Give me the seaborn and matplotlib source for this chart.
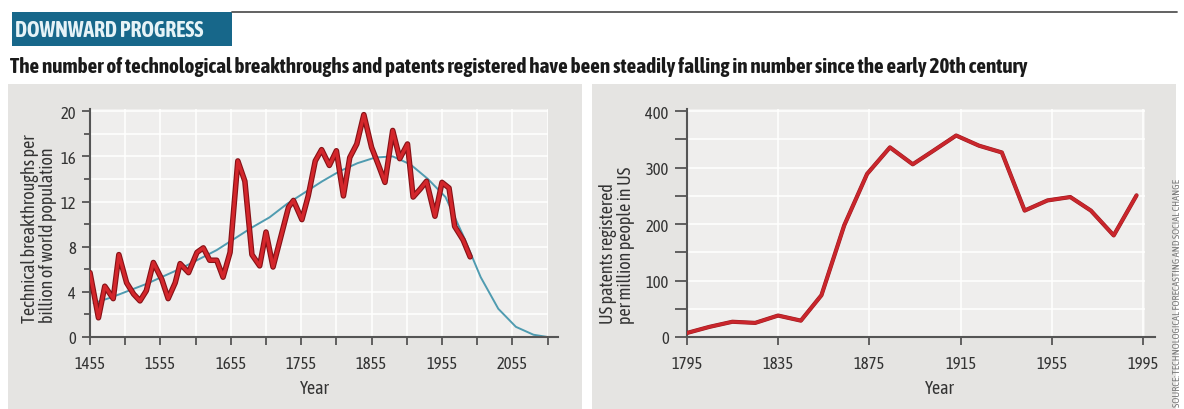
import numpy as np
import pandas as pd
import matplotlib
matplotlib.use("Agg")
import matplotlib.pyplot as plt
import matplotlib.patheffects as pe
from matplotlib import font_manager as fm
from matplotlib.patches import Rectangle
from matplotlib.lines import Line2D
import seaborn as sns

# ------------------------------------------------------------
# Data
# ------------------------------------------------------------
bt_years = [1455, 1467, 1476, 1488, 1496, 1507, 1517, 1526, 1535, 1545,
            1557, 1566, 1576, 1583, 1595, 1607, 1616, 1625, 1635, 1644,
            1654, 1665, 1675, 1685, 1696, 1705, 1715, 1737, 1744, 1756,
            1765, 1775, 1784, 1795, 1805, 1815, 1824, 1834, 1844, 1855,
            1865, 1874, 1885, 1895, 1906, 1914, 1924, 1933, 1945, 1955,
            1965, 1973, 1985, 1995]
bt_values = [5.7, 1.7, 4.5, 3.4, 7.3, 4.8, 3.8, 3.2, 4.1, 6.6,
             5.1, 3.4, 4.8, 6.5, 5.7, 7.5, 7.9, 6.8, 6.8, 5.3,
             7.5, 15.6, 13.8, 7.3, 6.3, 9.3, 6.2, 11.5, 12.1, 10.4,
             12.5, 15.6, 16.6, 15.2, 16.5, 12.5, 15.9, 17.1, 19.7, 16.8,
             15.2, 13.7, 18.3, 15.8, 17.1, 12.4, 13.1, 13.8, 10.7, 13.7,
             13.2, 9.8, 8.6, 7.1]

fit_years = [1460, 1485, 1510, 1535, 1560, 1585, 1610, 1635, 1660, 1685,
             1710, 1735, 1760, 1785, 1810, 1835, 1860, 1885, 1910, 1935,
             1960, 1985, 2010, 2035, 2060, 2085, 2105]
fit_values = [3.0, 3.5, 4.1, 4.7, 5.4, 6.1, 6.9, 7.7, 8.7, 9.7,
              10.6, 11.8, 12.8, 13.8, 14.7, 15.4, 15.9, 16.0, 15.3, 14.0,
              12.4, 9.0, 5.3, 2.5, 0.9, 0.2, 0.0]

pat_years = [1795, 1805, 1815, 1825, 1835, 1845, 1854, 1864, 1874, 1884,
             1894, 1903, 1913, 1923, 1933, 1943, 1953, 1963, 1972, 1982, 1992]
pat_values = [7, 18, 27, 25, 38, 29, 74, 198, 289, 336,
              306, 330, 357, 339, 327, 224, 242, 248, 224, 180, 251]

title = "DOWNWARD PROGRESS"
subtitle = ("The number of technological breakthroughs and patents registered "
            "have been steadily falling in number since the early 20th century")
left_ylabel = "Technical breakthroughs per\nbillion of world population"
right_ylabel = "US patents registered\nper million people in US"
source = "SOURCE: TECHNOLOGICAL FORECASTING AND SOCIAL CHANGE"

# ------------------------------------------------------------
# Style: a condensed face if one is around, else shrink DejaVu
# ------------------------------------------------------------
sns.set_style("ticks")
installed = {f.name for f in fm.fontManager.ttflist}
face, k = "DejaVu Sans", 0.78
for cand in ["Asap Condensed", "Archivo Narrow", "Barlow Condensed",
             "Liberation Sans Narrow"]:
    if cand in installed:
        face, k = cand, 1.0
        break
plt.rcParams['font.family'] = [face, 'DejaVu Sans']

W, H = 1184, 410
PANEL = "#e5e4e2"
PLOT_BG = "#efeeed"
AXIS = "#555555"
TXT = "#333333"
RED = "#d3262b"
BLUE = "#4f9bb0"

fig = plt.figure(figsize=(W / 100, H / 100), dpi=100)
fig.patch.set_facecolor("white")


def px(x0, y0, x1, y1):
    # pixel box (top-left origin) -> figure fraction [l, b, w, h]
    return [x0 / W, 1 - y1 / H, (x1 - x0) / W, (y1 - y0) / H]


def add_rect(x0, y0, x1, y1, color):
    l, b, w, h = px(x0, y0, x1, y1)
    fig.add_artist(Rectangle((l, b), w, h, transform=fig.transFigure,
                             facecolor=color, edgecolor="none", zorder=0))


# header
add_rect(12, 13, 232, 47, "#17678a")
fig.add_artist(Line2D([232 / W, 1177 / W], [1 - 13 / H, 1 - 13 / H],
                      transform=fig.transFigure, color="#555555", lw=1.3))
fig.text(15 / W, 1 - 31 / H, title, color="#e6f3f7", fontsize=15.5 * k,
         fontweight="bold", ha="left", va="center")
fig.text(10 / W, 1 - 67 / H, subtitle, color="#1a1a1a", fontsize=15.2 * k,
         fontweight="bold", ha="left", va="center")

# panel backgrounds
add_rect(8, 85, 582, 410, PANEL)
add_rect(592, 85, 1176, 410, PANEL)

fig.text(1178 / W, 1 - 407 / H, source, rotation=90, color="#7a7a7a",
         fontsize=7.4 * k, ha="center", va="bottom")


def style_axes(ax):
    ax.set_facecolor(PLOT_BG)
    for s in ["top", "right"]:
        ax.spines[s].set_visible(False)
    for s in ["left", "bottom"]:
        ax.spines[s].set_color(AXIS)
        ax.spines[s].set_linewidth(1.5)
    ax.tick_params(which="major", length=6, width=1.3, color=AXIS,
                   labelcolor=TXT, labelsize=12 * k)
    ax.tick_params(which="minor", length=4, width=1.3, color=AXIS)
    ax.tick_params(axis="x", which="both", pad=7)
    ax.tick_params(axis="y", which="both", pad=4)
    ax.set_xlabel("")
    ax.set_ylabel("")


# ------------------------------------------------------------
# Left: technical breakthroughs
# ------------------------------------------------------------
ax1 = fig.add_axes(px(90, 110, 548, 338))
sns.lineplot(x=fit_years, y=fit_values, ax=ax1, color=BLUE, lw=1.4, zorder=2)
sns.lineplot(x=bt_years, y=bt_values, ax=ax1, color=RED, lw=2.4, zorder=3,
             path_effects=[pe.Stroke(linewidth=4.0, foreground="#861116"),
                           pe.Normal()])
ax1.set_xlim(1455, 2105.6)
ax1.set_ylim(0, 20.2)
ax1.set_xticks(np.arange(1455, 2106, 100))
ax1.set_xticks(np.arange(1505, 2106, 100), minor=True)
ax1.set_yticks(np.arange(0, 21, 4))
ax1.set_yticks(np.arange(2, 21, 4), minor=True)
ax1.grid(which="both", color="white", lw=1.1)
ax1.set_axisbelow(True)
style_axes(ax1)
ax1.tick_params(axis="x", which="minor", length=6)
ax1.spines["bottom"].set_bounds(1455, 2120)
ax1.spines["left"].set_bounds(0, 20.2)
ax1.text(0.49, -0.225, "Year", transform=ax1.transAxes, ha="center",
         va="center", fontsize=13 * k, color=TXT)
fig.text(39 / W, 1 - 323 / H, left_ylabel, rotation=90, ha="center",
         va="bottom", multialignment="left", fontsize=13 * k, color=TXT,
         linespacing=1.0)

# ------------------------------------------------------------
# Right: US patents
# ------------------------------------------------------------
ax2 = fig.add_axes(px(686.7, 110, 1145, 338))
sns.lineplot(x=pat_years, y=pat_values, ax=ax2, color="#c9262c", lw=2.3,
             zorder=3,
             path_effects=[pe.Stroke(linewidth=3.0, foreground="#9a1a1f"),
                           pe.Normal()])
ax2.set_xlim(1795, 1995.7)
ax2.set_ylim(0, 404)
ax2.set_xticks(np.arange(1795, 1996, 40))
ax2.set_yticks(np.arange(0, 401, 100))
ax2.set_yticks(np.arange(50, 401, 100), minor=True)
ax2.grid(axis="x", which="major", color="white", lw=1.1)
ax2.grid(axis="y", which="both", color="white", lw=1.1)
ax2.set_axisbelow(True)
style_axes(ax2)
ax2.tick_params(axis="y", which="both", length=9)
ax2.spines["bottom"].set_bounds(1795, 2000)
ax2.spines["left"].set_bounds(0, 404)
ax2.text(0.553, -0.225, "Year", transform=ax2.transAxes, ha="center",
         va="center", fontsize=13 * k, color=TXT)
fig.text(617 / W, 1 - 324 / H, right_ylabel, rotation=90, ha="center",
         va="bottom", multialignment="left", fontsize=13 * k, color=TXT,
         linespacing=1.0)

fig.savefig("out.png", dpi=100, facecolor=fig.get_facecolor())
